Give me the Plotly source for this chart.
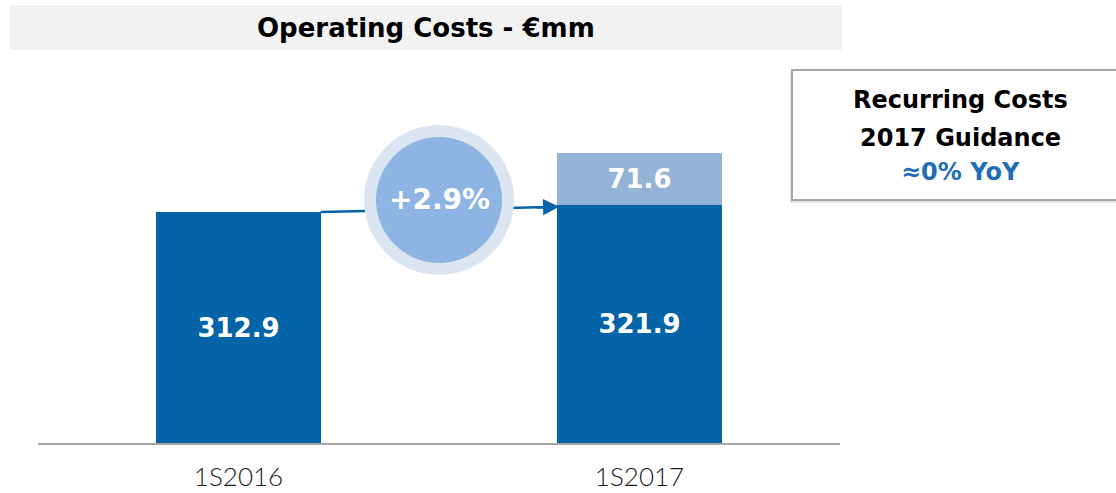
import plotly.graph_objects as go

categories = ["1S2016", "1S2017"]
base_costs = [312.9, 321.9]
extra_costs = [None, 71.6]
growth_label = "+2.9%"
title_text = "Operating Costs - €mm"
box_lines = ["Recurring Costs", "2017 Guidance", "≈0% YoY"]

DARK = "#0563a8"
LIGHT = "#95b3d7"
BOLD_FONT = "DejaVu Sans"
TICK_FONT = "Lato"

W, H = 1116, 493
L, R, T, B = 38, 276, 60, 50
y_max = 518.8

fig = go.Figure()
fig.add_trace(go.Bar(
    x=[0, 1], y=base_costs, width=0.41, marker=dict(color=DARK, line=dict(width=0)),
    text=[f"{v:.1f}" for v in base_costs], textposition="inside",
    insidetextanchor="middle", textangle=0,
    textfont=dict(family=BOLD_FONT, size=26, color="white", weight="bold"),
    hoverinfo="skip"))
fig.add_trace(go.Bar(
    x=[0, 1], y=extra_costs, width=0.41, marker=dict(color=LIGHT, line=dict(width=0)),
    text=["" if v is None else f"{v:.1f}" for v in extra_costs], textposition="inside",
    insidetextanchor="middle", textangle=0,
    textfont=dict(family=BOLD_FONT, size=26, color="white", weight="bold"),
    hoverinfo="skip"))

half = 0.41 / 2
pw = W - L - R
ph = H - T - B
def px_x(p):
    return (p - L) / pw
def px_y(p):
    return (H - B - p) / ph

shapes = []
shapes.append(dict(type="rect", xref="paper", yref="paper",
                   x0=px_x(10), x1=px_x(842), y0=px_y(50), y1=px_y(5),
                   fillcolor="#f2f2f2", line=dict(width=0), layer="below"))
shapes.append(dict(type="rect", xref="paper", yref="paper",
                   x0=px_x(790), x1=px_x(1125), y0=px_y(203), y1=px_y(72),
                   fillcolor="#e4e4e4", line=dict(width=0), layer="above"))
shapes.append(dict(type="rect", xref="paper", yref="paper",
                   x0=px_x(792), x1=px_x(1125), y0=px_y(200), y1=px_y(70),
                   fillcolor="white", line=dict(color="#a6a6a6", width=2), layer="above"))
shapes.append(dict(type="line", xref="x", yref="y",
                   x0=0 + half, y0=base_costs[0], x1=1 - half, y1=base_costs[1] - 2,
                   line=dict(color=DARK, width=2.5), layer="above"))
cy = 329.2
shapes.append(dict(type="circle", xref="x", yref="y", xsizemode="pixel", ysizemode="pixel",
                   xanchor=0.5, yanchor=cy, x0=-75, x1=75, y0=-75, y1=75,
                   fillcolor="#dce6f2", line=dict(width=0), layer="above"))
shapes.append(dict(type="circle", xref="x", yref="y", xsizemode="pixel", ysizemode="pixel",
                   xanchor=0.5, yanchor=cy, x0=-63, x1=63, y0=-63, y1=63,
                   fillcolor="#8eb4e3", line=dict(width=0), layer="above"))

annotations = [
    dict(xref="paper", yref="paper", x=px_x(426), y=px_y(28), xanchor="center", yanchor="middle",
         text=f"<b>{title_text}</b>", showarrow=False,
         font=dict(family=BOLD_FONT, size=26, color="black")),
    dict(xref="x", yref="y", x=0.5, y=cy, xanchor="center", yanchor="middle",
         text=f"<b>{growth_label}</b>", showarrow=False,
         font=dict(family=BOLD_FONT, size=28, color="white")),
    dict(xref="x", yref="y", x=1 - half + 0.005, y=base_costs[1] - 2,
         axref="x", ayref="y", ax=0.74, ay=base_costs[1] - 2.8, text="",
         showarrow=True, arrowhead=2, arrowsize=1.3, arrowwidth=2.5, arrowcolor=DARK),
]
ys = [100, 138, 172]
colors = ["black", "black", "#1f6eb5"]
for line, yy, c in zip(box_lines, ys, colors):
    annotations.append(dict(xref="paper", yref="paper", x=px_x(960), y=px_y(yy),
                            xanchor="center", yanchor="middle",
                            text=f"<b>{line}</b>", showarrow=False,
                            font=dict(family=BOLD_FONT, size=24, color=c)))

fig.update_layout(
    width=W, height=H, autosize=False, barmode="stack", bargap=0,
    margin=dict(l=L, r=R, t=T, b=B, autoexpand=False),
    paper_bgcolor="white", plot_bgcolor="white", showlegend=False,
    shapes=shapes, annotations=annotations,
    xaxis=dict(range=[-0.5, 1.5], tickmode="array", tickvals=[0, 1], ticktext=categories,
               showline=True, linecolor="#a6a6a6", linewidth=2, showgrid=False, zeroline=False,
               ticks="", ticklabelstandoff=10, automargin=False,
               tickfont=dict(family=TICK_FONT, size=26, color="#1a1a1a", weight=300)),
    yaxis=dict(range=[0, y_max], visible=False, showgrid=False, zeroline=False, automargin=False),
)

fig.write_html("out.html", config={"responsive": False, "displayModeBar": False},
               post_script="document.body.style.margin='0px';")
